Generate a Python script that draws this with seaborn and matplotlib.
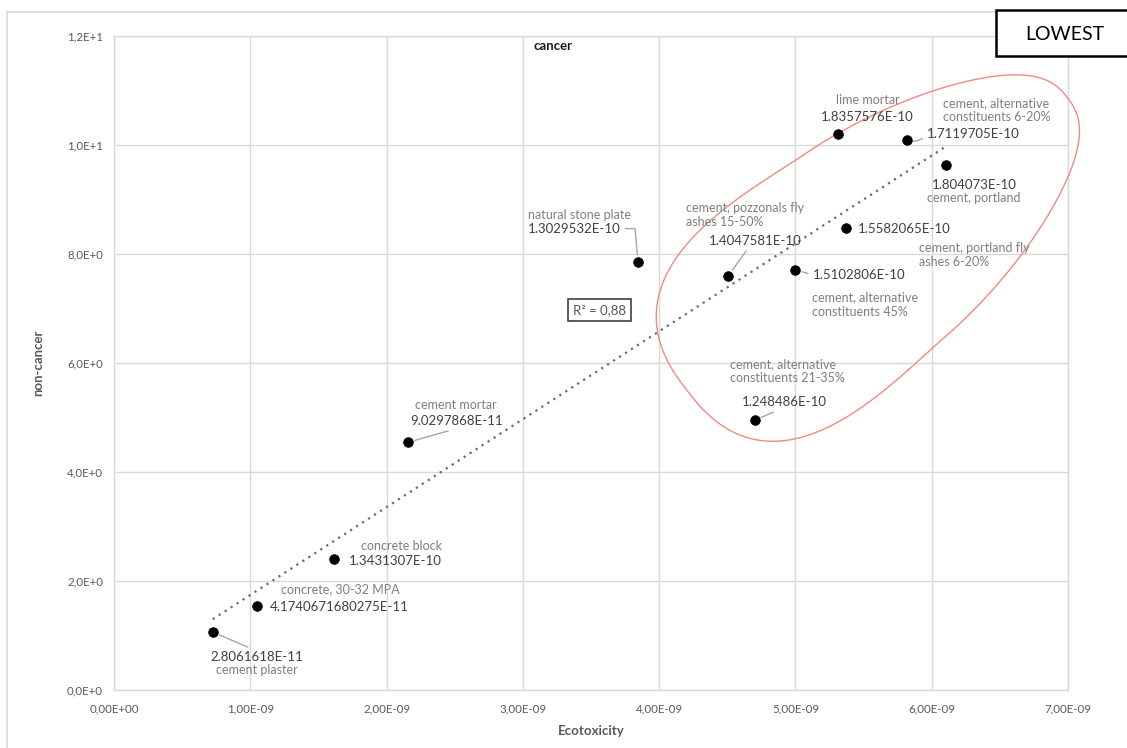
import numpy as np
import pandas as pd
import matplotlib
matplotlib.use("Agg")
import matplotlib.pyplot as plt
import seaborn as sns
from matplotlib.patches import Rectangle

# ---- data -------------------------------------------------------------
materials = [
    "cement plaster",
    "concrete, 30-32 MPA",
    "concrete block",
    "cement mortar",
    "natural stone plate",
    "cement, pozzonals fly\nashes 15-50%",
    "cement, alternative\nconstituents 45%",
    "cement, alternative\nconstituents 21-35%",
    "cement, portland fly\nashes 6-20%",
    "lime mortar",
    "cement, alternative\nconstituents 6-20%",
    "cement, portland",
]
ecotoxicity = [0.724e-9, 1.048e-9, 1.615e-9, 2.158e-9, 3.844e-9, 4.507e-9,
               5.000e-9, 4.700e-9, 5.372e-9, 5.315e-9, 5.816e-9, 6.105e-9]
non_cancer = [1.064, 1.547, 2.40, 4.545, 7.86, 7.60,
              7.71, 4.95, 8.48, 10.20, 10.09, 9.64]
cancer = ["2.8061618E-11", "4.1740671680275E-11", "1.3431307E-10",
          "9.0297868E-11", "1.3029532E-10", "1.4047581E-10",
          "1.5102806E-10", "1.248486E-10", "1.5582065E-10",
          "1.8357576E-10", "1.7119705E-10", "1.804073E-10"]

x_ticks = [0, 1e-9, 2e-9, 3e-9, 4e-9, 5e-9, 6e-9, 7e-9]
x_tick_labels = ["0,00E+00", "1,00E-09", "2,00E-09", "3,00E-09",
                 "4,00E-09", "5,00E-09", "6,00E-09", "7,00E-09"]
y_ticks = [0, 2, 4, 6, 8, 10, 12]
y_tick_labels = ["0,0E+0", "2,0E+0", "4,0E+0", "6,0E+0", "8,0E+0",
                 "1,0E+1", "1,2E+1"]
r_squared_text = "R² = 0,88"

df = pd.DataFrame({"material": materials, "ecotoxicity": ecotoxicity,
                   "non_cancer": non_cancer, "cancer": cancer})

# ---- label layout (pixel offsets from each point) ---------------------
# value offset, value ha, name offset, name ha, leader (relpos, connection)
label_layout = [
    ((44, -25), "center", (44, -38), "center", ((0.5, 1.0), "arc3")),
    ((13, -1), "left", (83, 17), "center", None),
    ((15, -2), "left", (67, 13), "center", None),
    ((48, 21), "center", (48, 37), "center", ((0.55, 0.0), "arc3")),
    ((-110, 33), "left", (-110, 47), "left", ((1.0, 0.5), "angle,angleA=0,angleB=95,rad=0")),
    ((-19, 35), "left", (-42, 61), "left", ((0.43, 0.0), "arc3")),
    ((17, -5), "left", (17, -35), "left", ((0.0, 0.5), "arc3")),
    ((-13, 18), "left", (-25, 49), "left", ((0.48, 0.0), "arc3")),
    ((12, -1), "left", (73, -27), "left", None),
    ((29, 17), "center", (29, 34), "center", None),
    ((20, 6), "left", (36, 30), "left", ((0.0, 0.5), "arc3,rad=-0.35")),
    ((28, -20), "center", (28, -33), "center", None),
]

# ---- style ------------------------------------------------------------
sns.set_theme(style="whitegrid")
plt.rcParams["font.family"] = ["Lato", "DejaVu Sans"]
GRID = "#d9d9d9"
TICK = "#595959"
VALUE_C = "#404040"
NAME_C = "#7f7f7f"

fig, ax = plt.subplots(figsize=(11.27, 7.48), dpi=100)
fig.patch.set_facecolor("white")
fig.subplots_adjust(left=0.1012, right=0.9477, bottom=0.0775, top=0.9519)

# trendline (linear least squares over the data range)
sns.regplot(data=df, x="ecotoxicity", y="non_cancer", ax=ax, scatter=False,
            ci=None, truncate=True,
            line_kws=dict(color="#6a6a6a", linewidth=1.6,
                          linestyle=(0, (1, 2.2)), zorder=2))

sns.scatterplot(data=df, x="ecotoxicity", y="non_cancer", ax=ax,
                color="black", edgecolor="black", s=48, zorder=4,
                legend=False)

ax.set_xlim(x_ticks[0], x_ticks[-1])
ax.set_ylim(y_ticks[0], y_ticks[-1])
ax.set_xticks(x_ticks)
ax.set_xticklabels(x_tick_labels)
ax.set_yticks(y_ticks)
ax.set_yticklabels(y_tick_labels)
ax.tick_params(axis="both", length=0, labelsize=8.3, labelcolor=TICK)
ax.tick_params(axis="x", pad=10)
ax.tick_params(axis="y", pad=8)
ax.grid(True, color=GRID, linewidth=1)
for sp in ax.spines.values():
    sp.set_visible(True)
    sp.set_color(GRID)
    sp.set_linewidth(1)

ax.set_xlabel("Ecotoxicity", fontsize=9.5, fontweight="bold", color=TICK,
              labelpad=7)
ax.set_ylabel("non-cancer", fontsize=9.5, fontweight="bold", color=TICK,
              labelpad=16)

# ---- point labels -----------------------------------------------------
for (xv, yv, name, val), (voff, vha, noff, nha, leader) in zip(
        zip(df.ecotoxicity, df.non_cancer, df.material, df.cancer),
        label_layout):
    arrow = None
    if leader is not None:
        relpos, conn = leader
        arrow = dict(arrowstyle="-", color="#a6a6a6", linewidth=1,
                     relpos=relpos, connectionstyle=conn,
                     shrinkA=1, shrinkB=5)
    ax.annotate(val, xy=(xv, yv), xytext=voff, textcoords="offset pixels",
                ha=vha, va="center", fontsize=9.5, color=VALUE_C,
                arrowprops=arrow, zorder=5)
    ax.annotate(name, xy=(xv, yv), xytext=noff, textcoords="offset pixels",
                ha=nha, va="center", fontsize=9, color=NAME_C,
                linespacing=1.25, zorder=5)

# R² box
ax.text(3.563e-9, 6.97, r_squared_text, ha="center", va="center",
        fontsize=9.5, color=TICK, zorder=6,
        bbox=dict(boxstyle="square,pad=0.4", facecolor="white",
                  edgecolor="#404040", linewidth=1.2))

# ---- highlight loop around the upper cluster (egg-shaped outline) -----
hl_center = (5.634e-9, 8.07)
hl_a, hl_b = 240.0, 115.0      # semi-axes in pixels
hl_angle = np.deg2rad(37.5)
hl_power, hl_skew, hl_shift = 0.8, 0.3, 8.0
cx, cy = ax.transData.transform(hl_center)
t = np.linspace(0, 2 * np.pi, 500)
ct, st = np.cos(t), np.sin(t)
u = hl_a * np.sign(ct) * np.abs(ct) ** hl_power
v = hl_shift + hl_b * np.sign(st) * np.abs(st) ** hl_power * (1 - hl_skew * ct)
px = cx + u * np.cos(hl_angle) - v * np.sin(hl_angle)
py = cy + u * np.sin(hl_angle) + v * np.cos(hl_angle)
loop = ax.transData.inverted().transform(np.column_stack([px, py]))
ax.plot(loop[:, 0], loop[:, 1], color="#ef8a82", linewidth=1.0,
        zorder=3, clip_on=False)

# ---- chart frame, title and tag --------------------------------------
W, H = 1127, 748
fig.add_artist(Rectangle((7 / W, -0.1), 1.2, 1.1 - 12 / H,
                         transform=fig.transFigure, fill=False,
                         edgecolor=GRID, linewidth=1.2))
fig.text(553 / W, 1 - 46 / H, "cancer", ha="center", va="center",
         fontsize=9.5, fontweight="bold", color="#1a1a1a")
fig.add_artist(Rectangle((996 / W, 1 - 56 / H), 0.2, 46 / H,
                         transform=fig.transFigure, facecolor="white",
                         edgecolor="black", linewidth=1.8, zorder=10))
fig.text(1065 / W, 1 - 34 / H, "LOWEST", ha="center", va="center",
         fontsize=14, color="black", zorder=11)

fig.savefig("out.png", dpi=100, facecolor="white")
